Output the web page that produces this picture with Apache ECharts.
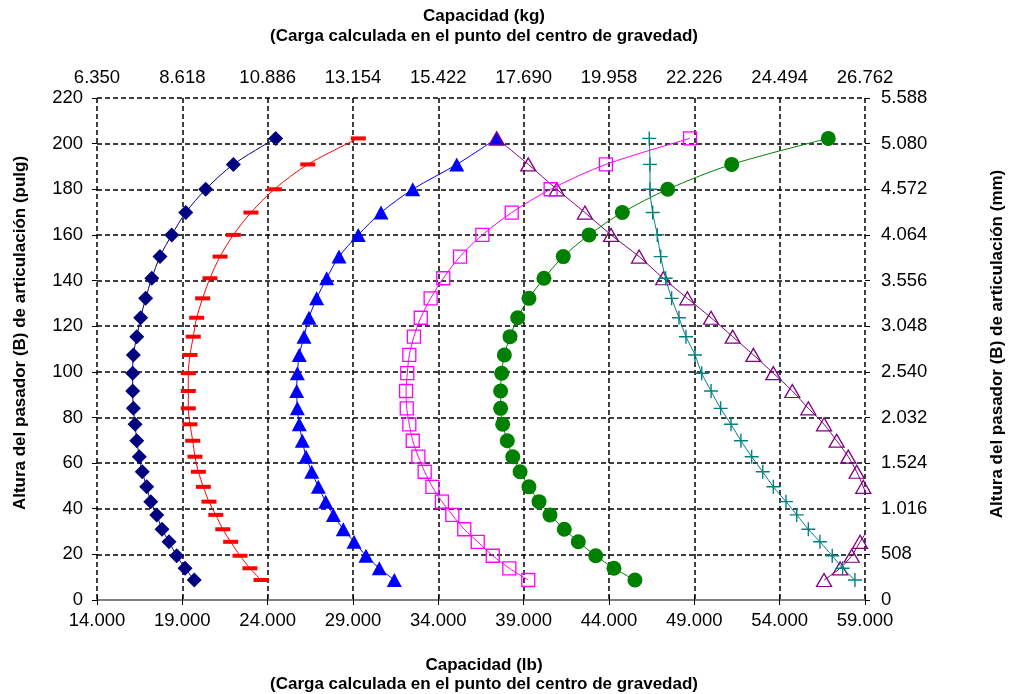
<!DOCTYPE html>
<html>
<head>
<meta charset="utf-8">
<script src="https://cdn.jsdelivr.net/npm/echarts@6/dist/echarts.min.js"></script>
<style>
html,body{margin:0;padding:0;background:#fff;}
#chart{width:1009px;height:694px;}
</style>
</head>
<body>
<div id="chart"></div>
<script>
// Hinge pin heights (pulg) shared by all curves
const heights = [8.77, 13.9, 19.4, 25.5, 31.0, 37.3, 43.1, 49.6, 56.2, 62.8, 69.8, 77.0, 84.0, 91.6, 99.4, 107.4, 115.4, 123.7, 132.2, 141.0, 150.5, 160.0, 169.8, 180.0, 190.9, 202.3];

// Capacity (lb) per curve, from bottom to top
const navyDiamond = [19.70, 19.16, 18.67, 18.22, 17.81, 17.50, 17.15, 16.91, 16.65, 16.48, 16.33, 16.23, 16.13, 16.09, 16.09, 16.13, 16.33, 16.56, 16.85, 17.21, 17.69, 18.38, 19.20, 20.37, 21.99, 24.47];
const redDash = [23.61, 22.96, 22.38, 21.83, 21.37, 20.96, 20.56, 20.23, 19.94, 19.74, 19.61, 19.45, 19.35, 19.35, 19.35, 19.45, 19.64, 19.84, 20.19, 20.62, 21.21, 21.99, 23.02, 24.39, 26.35, 29.31];
const blueTriangle = [31.42, 30.54, 29.76, 29.06, 28.43, 27.85, 27.40, 26.97, 26.58, 26.25, 26.03, 25.85, 25.74, 25.70, 25.74, 25.85, 26.13, 26.42, 26.87, 27.46, 28.18, 29.31, 30.64, 32.50, 35.08, 37.42];
const magentaSquare = [39.27, 38.16, 37.19, 36.31, 35.52, 34.82, 34.21, 33.65, 33.20, 32.83, 32.50, 32.30, 32.15, 32.11, 32.18, 32.30, 32.57, 32.97, 33.55, 34.29, 35.27, 36.58, 38.30, 40.58, 43.82, 48.75];
const greenCircle = [45.52, 44.29, 43.22, 42.20, 41.38, 40.54, 39.90, 39.31, 38.79, 38.36, 38.04, 37.77, 37.65, 37.65, 37.71, 37.87, 38.20, 38.65, 39.31, 40.19, 41.32, 42.83, 44.78, 47.44, 51.19, 56.85];
const tealPlus = [58.41, 57.69, 57.08, 56.36, 55.68, 55.00, 54.37, 53.63, 53.01, 52.36, 51.73, 51.15, 50.54, 49.98, 49.43, 49.04, 48.51, 48.10, 47.67, 47.32, 47.03, 46.83, 46.56, 46.40, 46.40, 46.36];
const purpleTriangle = [56.60, 57.54, 58.22, 58.71, 59.15, 59.30, 59.20, 58.90, 58.51, 58.02, 57.34, 56.60, 55.68, 54.74, 53.63, 52.46, 51.25, 49.98, 48.59, 47.18, 45.76, 44.12, 42.59, 40.94, 39.27, 37.42];

// Tick labels
const bottomLabels = ['14.000', '19.000', '24.000', '29.000', '34.000', '39.000', '44.000', '49.000', '54.000', '59.000'];
const topLabels = ['6.350', '8.618', '10.886', '13.154', '15.422', '17.690', '19.958', '22.226', '24.494', '26.762'];
const leftLabels = ['0', '20', '40', '60', '80', '100', '120', '140', '160', '180', '200', '220'];
const rightLabels = ['0', '508', '1.016', '1.524', '2.032', '2.540', '3.048', '3.556', '4.064', '4.572', '5.080', '5.588'];

const xMin = 14, xMax = 59, xStep = 5;
const yMin = 0, yMax = 220, yStep = 20;

const FONT = "'Liberation Sans', Arial, Helvetica, sans-serif";

function pairs(xs) { return xs.map((x, i) => [x, heights[i]]); }

const gridDash = { show: true, lineStyle: { color: '#000', width: 1.5, type: [5, 3] } };
const labelStyle = { fontFamily: FONT, fontSize: 18.5, color: '#000' };

function mkSeries(data, color, symbol, size, open, z) {
  return {
    type: 'line',
    data: pairs(data),
    smooth: 0.3,
    symbol: symbol,
    symbolSize: size,
    showAllSymbol: true,
    clip: true,
    z: z,
    lineStyle: { color: color, width: 1 },
    itemStyle: open ? { color: 'rgba(255,255,255,0)', borderColor: color, borderWidth: 1.3 } : { color: color, borderWidth: 0 },
    emphasis: { disabled: true }
  };
}

const plusPath = 'path://M9,0h2v9h9v2h-9v9h-2v-9h-9v-2h9z';

const chart = echarts.init(document.getElementById('chart'), null, { renderer: 'canvas' });
chart.setOption({
  animation: false,
  backgroundColor: '#fff',
  textStyle: { fontFamily: FONT },
  grid: { left: 97, right: 144, top: 98, bottom: 94, containLabel: false },
  xAxis: [
    {
      type: 'value', position: 'bottom', min: xMin, max: xMax, interval: xStep,
      axisLine: { show: true, lineStyle: { color: '#808080', width: 2 } },
      axisTick: { show: true, length: 5, lineStyle: { color: '#000', width: 1 } },
      axisLabel: Object.assign({ margin: 11, formatter: v => bottomLabels[Math.round((v - xMin) / xStep)] }, labelStyle),
      splitLine: gridDash
    },
    {
      type: 'value', position: 'top', min: xMin, max: xMax, interval: xStep,
      axisLine: { show: false },
      axisTick: { show: true, length: 5, lineStyle: { color: '#000', width: 1 } },
      axisLabel: Object.assign({ margin: 11, formatter: v => topLabels[Math.round((v - xMin) / xStep)] }, labelStyle),
      splitLine: { show: false }
    }
  ],
  yAxis: [
    {
      type: 'value', position: 'left', min: yMin, max: yMax, interval: yStep,
      axisLine: { show: false },
      axisTick: { show: true, length: 5, lineStyle: { color: '#000', width: 1 } },
      axisLabel: Object.assign({ margin: 14, formatter: v => leftLabels[Math.round((v - yMin) / yStep)] }, labelStyle),
      splitLine: gridDash
    },
    {
      type: 'value', position: 'right', min: yMin, max: yMax, interval: yStep,
      axisLine: { show: false },
      axisTick: { show: true, length: 5, lineStyle: { color: '#000', width: 1 } },
      axisLabel: Object.assign({ margin: 16, formatter: v => rightLabels[Math.round((v - yMin) / yStep)] }, labelStyle),
      splitLine: { show: false }
    }
  ],
  series: [
    mkSeries(navyDiamond, '#000080', 'diamond', 15, false, 2),
    mkSeries(redDash, '#FF0000', 'rect', [15, 4], false, 3),
    mkSeries(blueTriangle, '#0000FF', 'triangle', [15, 14], false, 4),
    mkSeries(purpleTriangle, '#800080', 'triangle', [15, 13], true, 5),
    mkSeries(magentaSquare, '#FF00FF', 'rect', 13, true, 6),
    mkSeries(greenCircle, '#008000', 'circle', 15, false, 7),
    mkSeries(tealPlus, '#008080', plusPath, 14, false, 8)
  ],
  graphic: [
    { type: 'text', x: 484, y: 16, style: { text: 'Capacidad (kg)', font: 'bold 17px ' + FONT, fill: '#000', align: 'center', verticalAlign: 'middle' } },
    { type: 'text', x: 484, y: 36, style: { text: '(Carga calculada en el punto del centro de gravedad)', font: 'bold 17px ' + FONT, fill: '#000', align: 'center', verticalAlign: 'middle' } },
    { type: 'text', x: 484, y: 665, style: { text: 'Capacidad (lb)', font: 'bold 17px ' + FONT, fill: '#000', align: 'center', verticalAlign: 'middle' } },
    { type: 'text', x: 484, y: 684, style: { text: '(Carga calculada en el punto del centro de gravedad)', font: 'bold 17px ' + FONT, fill: '#000', align: 'center', verticalAlign: 'middle' } },
    { type: 'text', x: 20, y: 333, rotation: Math.PI / 2, style: { text: 'Altura del pasador (B) de articulación (pulg)', font: 'bold 17px ' + FONT, fill: '#000', align: 'center', verticalAlign: 'middle' } },
    { type: 'text', x: 997, y: 344, rotation: Math.PI / 2, style: { text: 'Altura del pasador (B) de articulación (mm)', font: 'bold 17px ' + FONT, fill: '#000', align: 'center', verticalAlign: 'middle' } }
  ]
});
</script>
</body>
</html>
